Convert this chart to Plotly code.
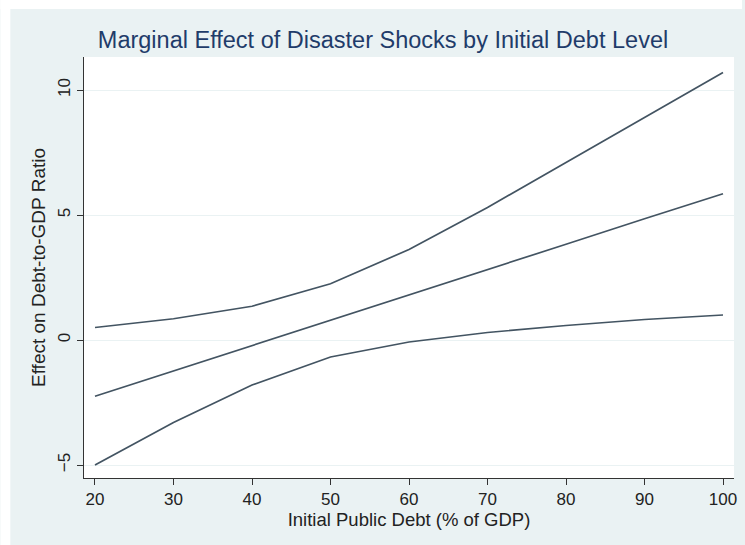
import plotly.graph_objects as go

debt = [20, 30, 40, 50, 60, 70, 80, 90, 100]
upper = [0.5, 0.85, 1.35, 2.25, 3.62, 5.3, 7.1, 8.9, 10.7]
effect = [-2.25, -1.24, -0.23, 0.78, 1.78, 2.8, 3.83, 4.85, 5.85]
lower = [-5.0, -3.3, -1.8, -0.68, -0.08, 0.3, 0.58, 0.82, 1.0]

xticks = [20, 30, 40, 50, 60, 70, 80, 90, 100]
yticks = [-5, 0, 5, 10]

LINE = "#435462"
FONT = "Liberation Sans, Arial, sans-serif"

fig = go.Figure()
for ys in (upper, effect, lower):
    fig.add_trace(go.Scatter(x=debt, y=ys, mode="lines",
                             line=dict(color=LINE, width=1.7),
                             showlegend=False, hoverinfo="skip"))

L, R, T, B = 84, 737, 57, 478
W, H = 745, 545
pw, ph = R - L, B - T

def px(xp):
    return (xp - L) / pw

def py(yp):
    return (B - yp) / ph

fig.update_layout(
    width=W, height=H,
    margin=dict(l=L, r=W - R, t=T, b=H - B),
    paper_bgcolor="#EAF2F3",
    plot_bgcolor="white",
    font=dict(family=FONT, color="#222222"),
    title=dict(text="Marginal Effect of Disaster Shocks by Initial Debt Level",
               font=dict(size=23.5, color="#1F3C6A", family=FONT),
               x=383 / W, xanchor="center", y=1 - 40 / H, yanchor="middle"),
    xaxis=dict(range=[18.6, 101.4], tickvals=xticks, ticks="outside", ticklen=6,
               tickcolor="#333333", showline=True, linecolor="#333333", linewidth=1,
               showgrid=False, zeroline=False, tickfont=dict(size=17),
               title=dict(text="Initial Public Debt (% of GDP)", font=dict(size=18.5), standoff=4)),
    yaxis=dict(range=[-5.52, 11.32], tickvals=yticks, ticks="outside", ticklen=6,
               tickcolor="#333333", showline=True, linecolor="#333333", linewidth=1,
               showgrid=True, gridcolor="#EAF2F3", gridwidth=1, zeroline=False,
               tickangle=-90, tickfont=dict(size=17),
               title=dict(text="Effect on Debt-to-GDP Ratio", font=dict(size=19), standoff=4)),
    shapes=[
        dict(type="rect", xref="paper", yref="paper", x0=px(0), x1=px(W), y0=py(9), y1=py(0),
             fillcolor="white", line=dict(width=0), layer="above"),
        dict(type="rect", xref="paper", yref="paper", x0=px(0), x1=px(10), y0=py(H), y1=py(0),
             fillcolor="white", line=dict(width=0), layer="above"),
    ],
)

fig.write_html("out.html")
